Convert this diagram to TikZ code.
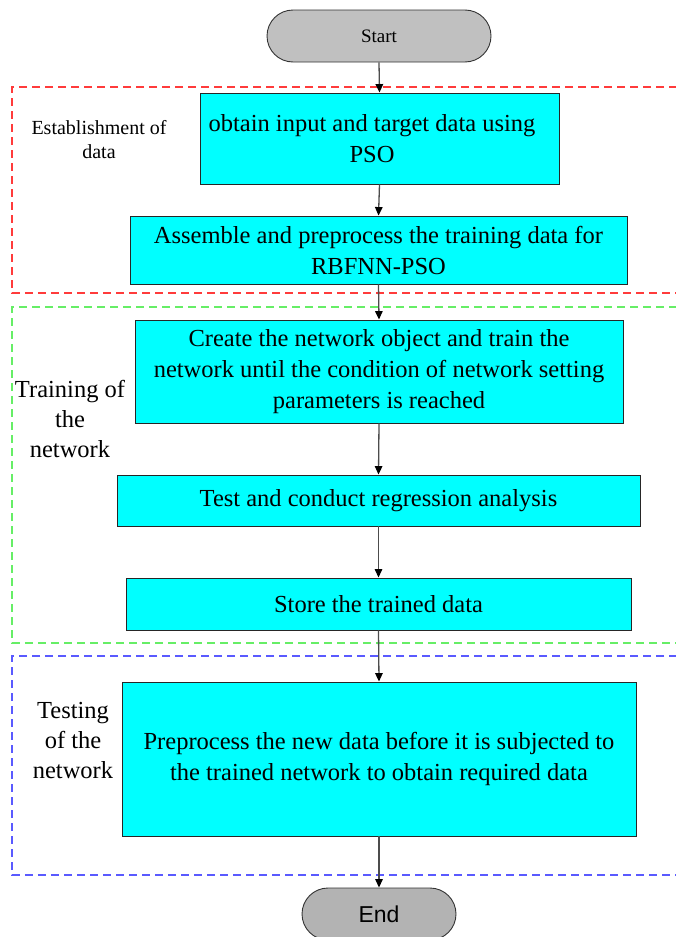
\documentclass[tikz,border=0pt]{standalone}
\usepackage{fontspec}
\setmainfont{Liberation Serif}
\newfontfamily\arialfont{Liberation Sans}
\usetikzlibrary{shapes.misc,arrows.meta,shadows}

\definecolor{boxcyan}{HTML}{00FFFF}
\definecolor{startgray}{HTML}{C0C0C0}
\definecolor{endgray}{HTML}{B3B3B3}
\definecolor{framered}{HTML}{FF3B3B}
\definecolor{framegreen}{HTML}{66EE66}
\definecolor{frameblue}{HTML}{5A5AFF}

\begin{document}
\begin{tikzpicture}[x=1pt,y=-1pt,
  procbox/.style={draw=black!85, line width=0.9pt, fill=boxcyan, inner sep=0pt,
    align=center, font=\fontsize{24.5}{31}\selectfont,
    drop shadow={shadow xshift=1.2pt, shadow yshift=-1.2pt, fill=black!35, opacity=1}},
  terminal/.style={rounded rectangle, draw=black!80, line width=0.9pt, inner sep=0pt},
  flowarrow/.style={draw=black!70, line width=1.3pt, -{Triangle[length=8.5pt,width=7.5pt,black]}},
  frame/.style={dashed, dash pattern=on 8pt off 5pt, line width=1.1pt},
  sidelabel/.style={align=center, font=\fontsize{24.5}{30}\selectfont}
]
\useasboundingbox (0,0) rectangle (675,937);

% dashed group frames
\draw[frame, framered] (690,87) -| (12,293) -- (690,293);
\draw[frame, framegreen] (690,307) -| (12,643) -- (690,643);
\draw[frame, frameblue] (690,656) -| (12,875) -- (690,875);

% terminals
\node[terminal, fill=startgray, minimum width=224pt, minimum height=52pt,
      font=\fontsize{19}{22}\selectfont] (start) at (379,36) {Start};
\node[terminal, fill=endgray, minimum width=154pt, minimum height=52pt,
      font=\arialfont\fontsize{23}{26}\selectfont] (end) at (379,914) {End};

% process boxes
\node[procbox, minimum width=359pt, minimum height=91pt] (b1) at (379.5,138.5)
  {obtain input and target data using\hspace*{15pt}\\PSO\hspace*{15pt}};
\node[procbox, minimum width=497pt, minimum height=68pt] (b2) at (378.5,250)
  {Assemble and preprocess the training data for\\RBFNN-PSO};
\node[procbox, minimum width=488pt, minimum height=103pt] (b3) at (379,371.5)
  {Create the network object and train the\\network until the condition of network setting\\parameters is reached};
\node[procbox, minimum width=523pt, minimum height=51pt] (b4) at (378.5,500.5)
  {Test and conduct regression analysis};
\node[procbox, minimum width=505pt, minimum height=52pt] (b5) at (378.5,604)
  {Store the trained data};
\node[procbox, minimum width=514pt, minimum height=154pt] (b6) at (379,759)
  {Preprocess the new data before it is subjected to\\the trained network to obtain required data};

% side labels
\node[align=center, font=\fontsize{20}{24}\selectfont] (lab1) at (99,140) {Establishment of\\data};
\node[sidelabel] (lab2) at (70,419) {Training of\\the\\network};
\node[sidelabel] (lab3) at (73,740) {Testing\\of the\\network};

% connectors
\draw[flowarrow] (start.south) -- (b1.north);
\draw[flowarrow] (b1.south) -- (b2.north);
\draw[flowarrow] (b2.south) -- (b3.north);
\draw[flowarrow] (b3.south) -- (b4.north);
\draw[flowarrow] (b4.south) -- (b5.north);
\draw[flowarrow] (b5.south) -- (b6.north);
\draw[flowarrow] (b6.south) -- (end.north);
\end{tikzpicture}
\end{document}
